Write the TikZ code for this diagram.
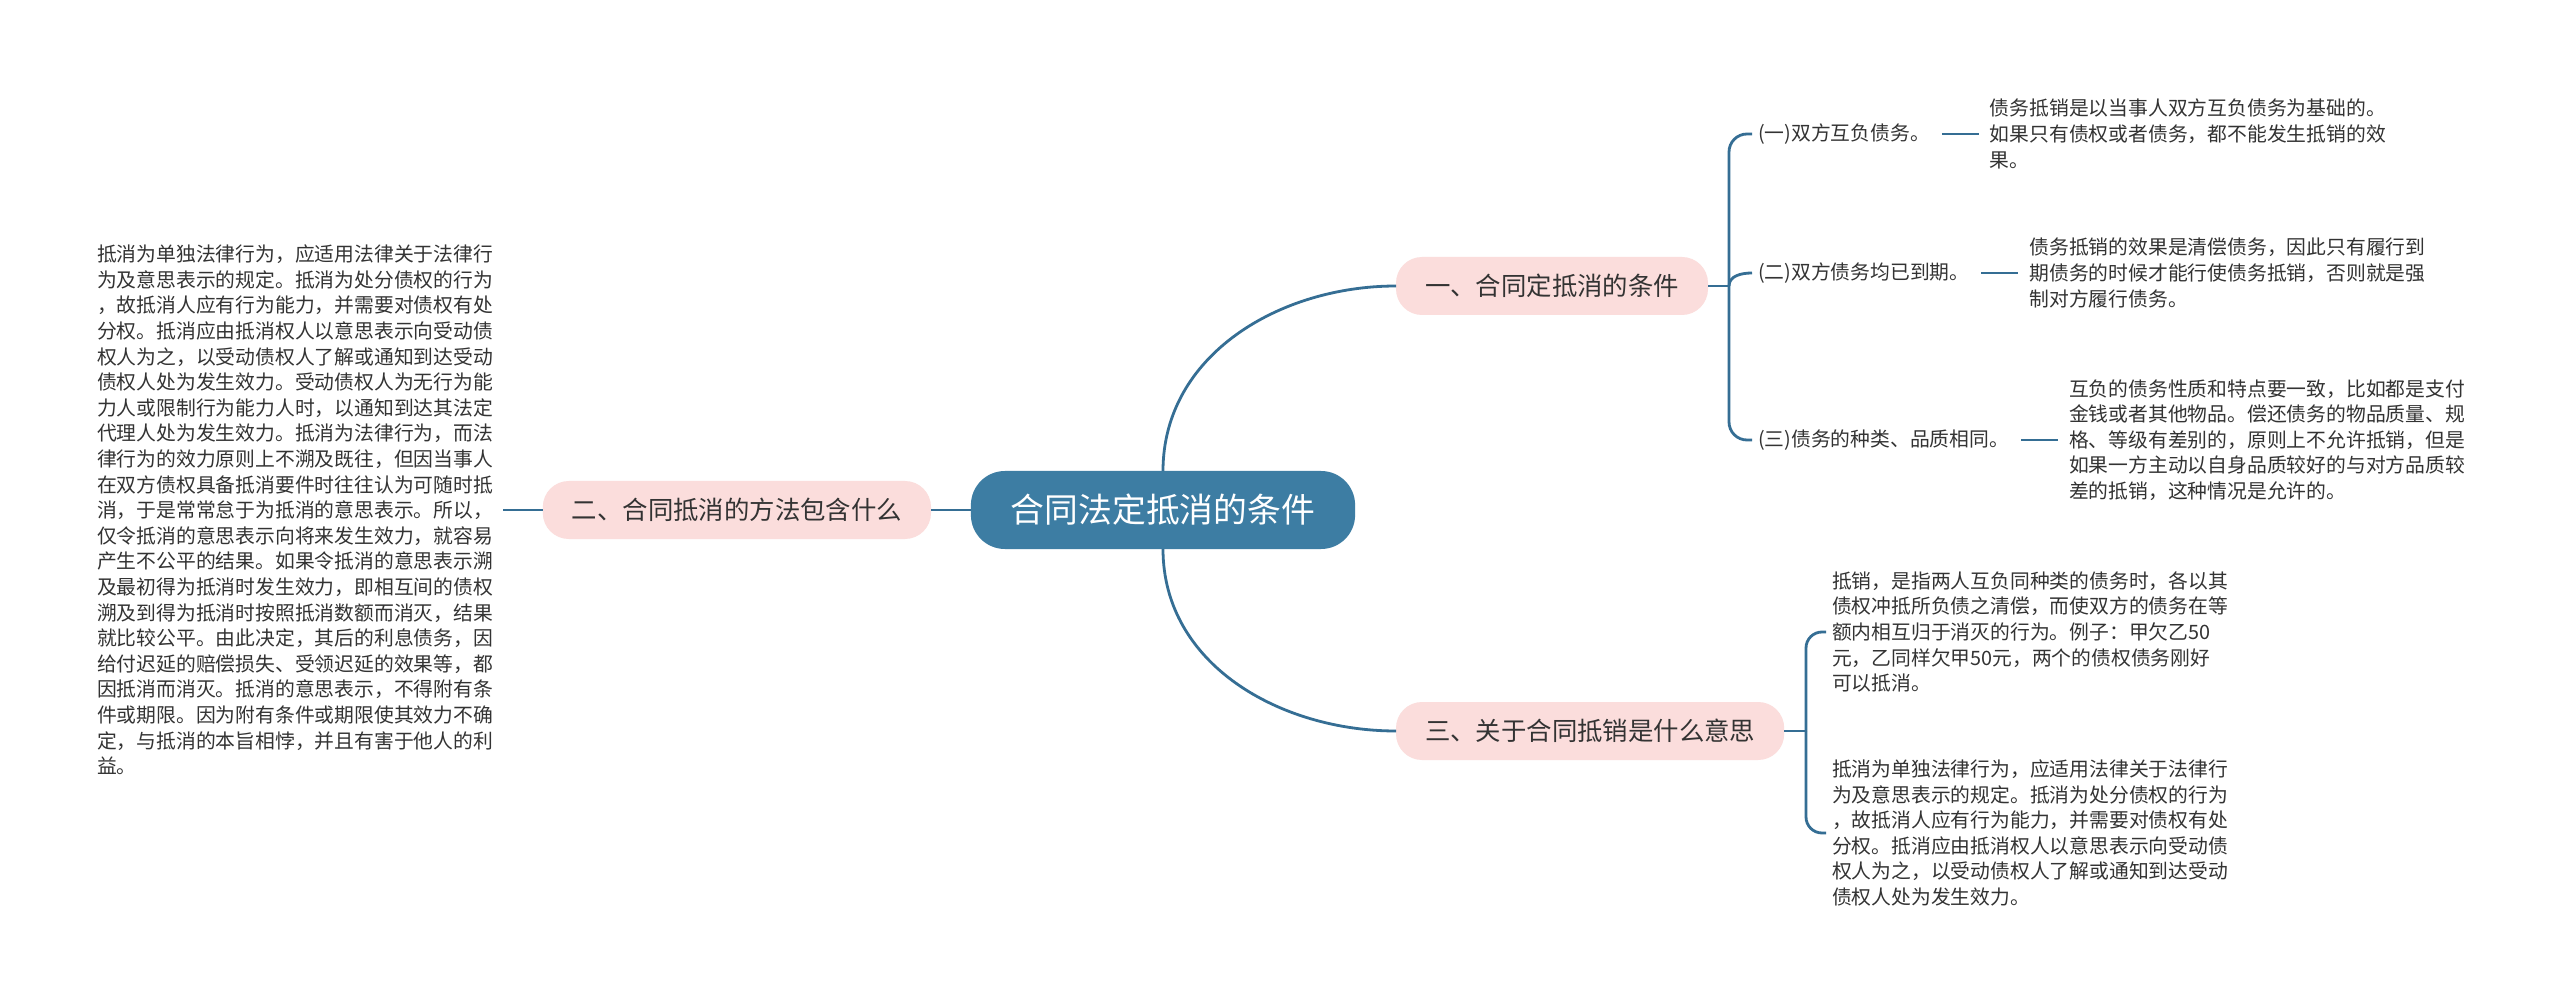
\documentclass[tikz,border=0pt]{standalone}
\usepackage{fontspec}
\setmainfont{Noto Sans CJK SC}
\usepackage{tikz}
\usetikzlibrary{positioning}
\definecolor{azulraiz}{RGB}{61,125,163}
\definecolor{azullinea}{RGB}{53,110,148}
\definecolor{rosatema}{RGB}{251,221,220}
\definecolor{textogris}{RGB}{51,51,51}
\tikzset{rama/.style={line width=1.4pt, draw=azullinea}}
\tikzset{raiz/.style={fill=azulraiz, text=white, rounded corners=17pt, minimum height=39pt, inner xsep=20pt, font=\fontsize{16.9pt}{20pt}\selectfont}}
\tikzset{tema/.style={fill=rosatema, text=textogris, rounded corners=13pt, minimum height=29pt, inner xsep=14.5pt, font=\fontsize{12.7pt}{15pt}\selectfont}}
\tikzset{subtema/.style={text=textogris, inner xsep=3pt, inner ysep=1pt, font=\fontsize{9.9pt}{12.8pt}\selectfont}}
\tikzset{hoja/.style={text=textogris, align=left, inner xsep=5.5pt, inner ysep=1pt, font=\fontsize{9.9pt}{12.8pt}\selectfont}}

\begin{document}
\begin{tikzpicture}[x=0.5pt, y=-0.5pt, every node/.style={outer sep=0pt}]
            \path[use as bounding box, fill=white] (0,0) rectangle (2560,1005);

            \node[raiz] (centro) at (1163,510) {合同法定抵消的条件};
            \node[tema, anchor=east] (dos)  at (931,510)  {二、合同抵消的方法包含什么};
            \node[tema, anchor=west] (uno)  at (1396,286) {一、合同定抵消的条件};
            \node[tema, anchor=west] (tres) at (1396,731) {三、关于合同抵销是什么意思};

            \node[hoja, anchor=east, inner xsep=5pt] (izq) at (503,510) {抵消为单独法律行为，应适用法律关于法律行\\为及意思表示的规定。抵消为处分债权的行为\\，故抵消人应有行为能力，并需要对债权有处\\分权。抵消应由抵消权人以意思表示向受动债\\权人为之，以受动债权人了解或通知到达受动\\债权人处为发生效力。受动债权人为无行为能\\力人或限制行为能力人时，以通知到达其法定\\代理人处为发生效力。抵消为法律行为，而法\\律行为的效力原则上不溯及既往，但因当事人\\在双方债权具备抵消要件时往往认为可随时抵\\消，于是常常怠于为抵消的意思表示。所以，\\仅令抵消的意思表示向将来发生效力，就容易\\产生不公平的结果。如果令抵消的意思表示溯\\及最初得为抵消时发生效力，即相互间的债权\\溯及到得为抵消时按照抵消数额而消灭，结果\\就比较公平。由此决定，其后的利息债务，因\\给付迟延的赔偿损失、受领迟延的效果等，都\\因抵消而消灭。抵消的意思表示，不得附有条\\件或期限。因为附有条件或期限使其效力不确\\定，与抵消的本旨相悖，并且有害于他人的利\\益。};

            \node[subtema, anchor=west] (sub1) at (1752,134) {(一)双方互负债务。};
            \node[subtema, anchor=west] (sub2) at (1752,273) {(二)双方债务均已到期。};
            \node[subtema, anchor=west] (sub3) at (1752,440) {(三)债务的种类、品质相同。};
            \node[hoja, right=21.5pt of sub1] (hoja1) {债务抵销是以当事人双方互负债务为基础的。\\如果只有债权或者债务，都不能发生抵销的效\\果。};
            \node[hoja, right=21.5pt of sub2] (hoja2) {债务抵销的效果是清偿债务，因此只有履行到\\期债务的时候才能行使债务抵销，否则就是强\\制对方履行债务。};
            \node[hoja, right=21.5pt of sub3] (hoja3) {互负的债务性质和特点要一致，比如都是支付\\金钱或者其他物品。偿还债务的物品质量、规\\格、等级有差别的，原则上不允许抵销，但是\\如果一方主动以自身品质较好的与对方品质较\\差的抵销，这种情况是允许的。};

            \node[hoja, anchor=west, inner xsep=3pt] (def1) at (1826,632) {抵销，是指两人互负同种类的债务时，各以其\\债权冲抵所负债之清偿，而使双方的债务在等\\额内相互归于消灭的行为。例子：甲欠乙50\\元，乙同样欠甲50元，两个的债权债务刚好\\可以抵消。};
            \node[hoja, anchor=west, inner xsep=3pt] (def2) at (1826,833) {抵消为单独法律行为，应适用法律关于法律行\\为及意思表示的规定。抵消为处分债权的行为\\，故抵消人应有行为能力，并需要对债权有处\\分权。抵消应由抵消权人以意思表示向受动债\\权人为之，以受动债权人了解或通知到达受动\\债权人处为发生效力。};

            \coordinate (nudo1) at (1729,286);
            \coordinate (nudo2) at (1806,731);

            \draw[rama] (centro) -- (dos);
            \draw[rama] (dos) -- (izq);
            \draw[rama] (centro.north) to [out=90, in=180]  (uno.west);
            \draw[rama] (centro.south) to [out=-90, in=180] (tres.west);

            \draw[rama] (uno) -- (nudo1);
            \draw[rama, rounded corners=9pt] (nudo1) |- (sub1.west);
            \draw[rama] (nudo1) to [out=90, in=180] (sub2.west);
            \draw[rama, rounded corners=9pt] (nudo1) |- (sub3.west);
            \draw[rama, shorten <=3pt] (sub1) -- (hoja1);
            \draw[rama, shorten <=3pt] (sub2) -- (hoja2);
            \draw[rama, shorten <=3pt] (sub3) -- (hoja3);

            \draw[rama] (tres) -- (nudo2);
            \draw[rama, rounded corners=8pt] (nudo2) |- (def1.west);
            \draw[rama, rounded corners=8pt] (nudo2) |- (def2.west);
        \end{tikzpicture}
\end{document}
